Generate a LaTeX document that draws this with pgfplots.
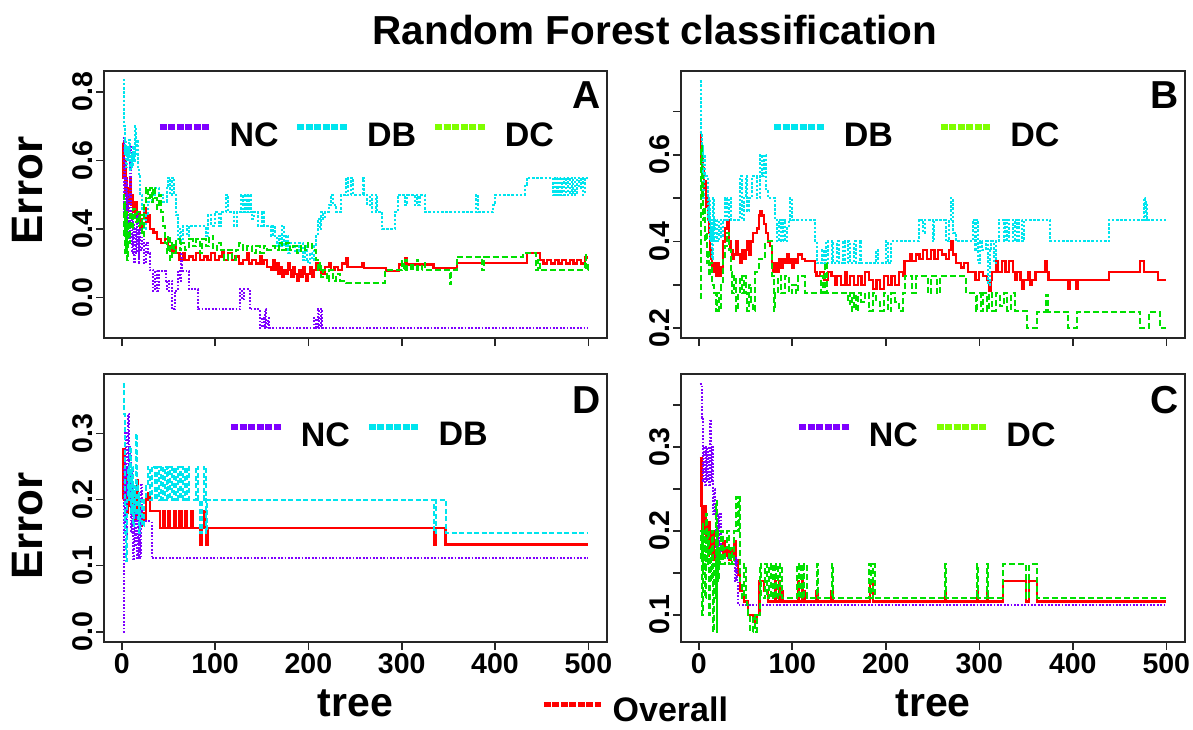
\documentclass[border=0pt]{standalone}
\usepackage{fontspec}
\setmainfont{Liberation Sans}
\usepackage{pgfplots}
\pgfplotsset{compat=1.18}
\definecolor{ncv}{HTML}{7F00FF}
\definecolor{dbc}{HTML}{00E5EE}
\definecolor{dcg}{HTML}{00E000}
\definecolor{dcl}{HTML}{7FFF00}
\definecolor{ovr}{HTML}{FF0000}
\newcommand{\fs}[1]{\fontsize{#1}{#1}\selectfont\bfseries}
\pgfplotsset{
  rfbase/.style={
    scale only axis, width=503pt, height=267pt,
    xmin=-19, xmax=520,
    axis line style={line width=1.6pt, black!85},
    every tick/.style={line width=1.6pt, black!85},
    major tick length=8pt,
    tick align=outside,
    xtick pos=bottom, ytick pos=left,
    xtick={0,100,200,300,400,500},
    tick label style={font=\fs{28.5}},
    yticklabel style={rotate=90, anchor=south},
    legend columns=-1,
    legend style={draw=none, fill=none, font=\fs{34}, anchor=center, inner sep=0pt,
      nodes={inner sep=0pt},
      /tikz/every odd column/.append style={column sep=17pt},
      /tikz/every even column/.append style={column sep=16pt}},
    legend image code/.code={\draw[##1] (0pt,8pt) -- (50pt,8pt);},
    xlabel style={font=\fs{41}},
    ylabel style={font=\fs{44}, anchor=center},
  },
  nc/.style={ncv, line width=2pt, dash pattern=on 1.8pt off 1.6pt, const plot, forget plot},
  db/.style={dbc, line width=2pt, dash pattern=on 2.6pt off 1.6pt, const plot, forget plot},
  dc/.style={dcg, line width=2pt, dash pattern=on 6pt off 3pt, const plot, forget plot},
  ov/.style={ovr, line width=2.2pt, const plot, forget plot},
  lnc/.style={ncv, line width=5.5pt, dash pattern=on 7pt off 1.5pt},
  ldb/.style={dbc, line width=5.5pt, dash pattern=on 7pt off 1.5pt},
  ldc/.style={dcl, line width=5.5pt, dash pattern=on 7pt off 1.5pt},
  lov/.style={ovr, line width=5.5pt, dash pattern=on 7pt off 1.5pt},
}
\begin{document}
\begin{tikzpicture}
\useasboundingbox (0,0) rectangle (1193pt,729pt);
\node[font=\fs{40.5}, anchor=base] at (655pt,684pt) {Random Forest classification};

% ---------------- Panel A ----------------
\begin{axis}[rfbase, at={(104pt,391pt)}, anchor=south west,
  ymin=0.0825, ymax=0.861,
  ytick={0.2,0.4,0.6,0.8}, yticklabels={0.0,0.4,0.6,0.8},
  xticklabels={,,,,,},
  ylabel={Error}, ylabel style={at={(axis description cs:-0.152,0.552)}},
  legend style={at={(axis description cs:0.5,0.76)}}]
\addplot[ov] coordinates {(1,0.65)(2,0.55)(3,0.60)(4,0.50)(5,0.55)(6,0.45)(7,0.52)(8,0.48)(9,0.55)(10,0.47)(11,0.50)(12,0.45)(14,0.48)(16,0.42)(18,0.45)(20,0.40)(22,0.43)(24,0.46)(26,0.42)(28,0.44)(30,0.40)(34,0.39)(38,0.37)(42,0.36)(46,0.37)(50,0.35)(54,0.33)(56,0.35)(58,0.33)(62,0.31)(66,0.33)(68,0.31)(72,0.32)(76,0.31)(80,0.33)(84,0.31)(88,0.32)(92,0.31)(96,0.33)(100,0.31)(104,0.32)(108,0.34)(110,0.31)(114,0.33)(118,0.31)(122,0.32)(126,0.30)(130,0.31)(134,0.33)(136,0.30)(140,0.31)(144,0.30)(148,0.32)(150,0.30)(152,0.31)(156,0.29)(160,0.28)(162,0.31)(164,0.28)(166,0.30)(168,0.27)(170,0.29)(172,0.26)(174,0.28)(176,0.27)(178,0.30)(180,0.28)(182,0.26)(184,0.29)(186,0.27)(188,0.25)(190,0.28)(192,0.26)(194,0.29)(196,0.27)(198,0.25)(200,0.27)(202,0.29)(204,0.26)(206,0.28)(208,0.30)(210,0.28)(214,0.27)(218,0.29)(222,0.30)(224,0.28)(228,0.29)(232,0.28)(236,0.30)(240,0.316)(242,0.29)(258,0.30)(260,0.287)(283,0.278)(297,0.297)(304,0.316)(306,0.297)(334,0.287)(359,0.302)(434,0.331)(448,0.31)(452,0.30)(456,0.31)(460,0.30)(464,0.31)(468,0.30)(472,0.31)(476,0.30)(480,0.31)(484,0.30)(488,0.31)(492,0.30)(496,0.317)(500,0.317)};
\addplot[nc] coordinates {(1,0.667)(2,0.45)(3,0.60)(4,0.38)(5,0.55)(6,0.42)(7,0.50)(8,0.36)(9,0.64)(10,0.45)(11,0.33)(12,0.42)(13,0.30)(14,0.40)(15,0.33)(16,0.45)(17,0.36)(18,0.30)(19,0.40)(20,0.34)(22,0.38)(24,0.30)(26,0.36)(28,0.33)(30,0.28)(34,0.22)(36,0.278)(38,0.22)(40,0.278)(47,0.25)(49,0.22)(51,0.25)(54,0.166)(57,0.22)(60,0.278)(62,0.25)(64,0.33)(65,0.278)(72,0.224)(82,0.166)(127,0.224)(129,0.195)(131,0.224)(137,0.166)(148,0.112)(150,0.14)(152,0.112)(154,0.166)(155,0.112)(157,0.14)(158,0.112)(206,0.14)(208,0.112)(210,0.166)(211,0.112)(213,0.166)(215,0.112)(500,0.112)};
\addplot[db] coordinates {(1,0.836)(2,0.70)(3,0.62)(4,0.66)(5,0.58)(6,0.64)(7,0.60)(8,0.66)(9,0.57)(10,0.62)(11,0.58)(12,0.64)(13,0.60)(14,0.70)(15,0.62)(16,0.66)(17,0.58)(18,0.56)(20,0.50)(22,0.46)(24,0.40)(26,0.44)(28,0.48)(32,0.50)(36,0.52)(40,0.50)(44,0.48)(48,0.52)(50,0.55)(52,0.50)(54,0.55)(56,0.50)(58,0.44)(60,0.37)(62,0.40)(64,0.36)(66,0.41)(70,0.38)(72,0.41)(90,0.38)(92,0.44)(96,0.41)(100,0.45)(104,0.41)(106,0.45)(112,0.50)(114,0.45)(120,0.41)(124,0.45)(128,0.50)(130,0.45)(132,0.50)(134,0.45)(136,0.50)(138,0.45)(140,0.43)(142,0.45)(146,0.41)(150,0.45)(152,0.41)(160,0.38)(162,0.41)(164,0.38)(166,0.35)(168,0.38)(170,0.35)(172,0.41)(174,0.35)(176,0.38)(178,0.33)(180,0.36)(186,0.33)(190,0.36)(194,0.31)(196,0.35)(198,0.31)(200,0.30)(202,0.33)(204,0.31)(206,0.35)(208,0.38)(210,0.43)(212,0.40)(214,0.45)(216,0.43)(218,0.45)(222,0.47)(224,0.50)(226,0.47)(230,0.45)(235,0.50)(240,0.55)(242,0.50)(246,0.55)(248,0.50)(254,0.50)(258,0.55)(260,0.50)(263,0.47)(266,0.50)(268,0.45)(272,0.50)(274,0.45)(279,0.40)(293,0.45)(296,0.50)(304,0.47)(306,0.50)(314,0.47)(316,0.50)(318,0.47)(320,0.50)(325,0.45)(380,0.50)(382,0.45)(398,0.47)(400,0.50)(432,0.53)(434,0.55)(462,0.50)(464,0.55)(466,0.50)(468,0.55)(470,0.50)(472,0.55)(474,0.50)(476,0.55)(478,0.50)(480,0.55)(482,0.50)(484,0.55)(486,0.50)(488,0.55)(490,0.52)(492,0.55)(494,0.50)(496,0.55)(500,0.55)};
\addplot[dc] coordinates {(1,0.50)(2,0.38)(3,0.48)(4,0.33)(5,0.45)(6,0.31)(7,0.42)(8,0.36)(9,0.45)(10,0.40)(12,0.46)(14,0.42)(16,0.45)(18,0.41)(20,0.44)(22,0.38)(24,0.48)(26,0.52)(28,0.49)(30,0.52)(32,0.48)(34,0.52)(36,0.49)(38,0.46)(40,0.50)(42,0.45)(44,0.41)(46,0.36)(48,0.33)(50,0.38)(52,0.31)(54,0.36)(56,0.33)(58,0.37)(62,0.34)(64,0.36)(68,0.34)(72,0.37)(76,0.35)(80,0.37)(84,0.33)(86,0.37)(90,0.35)(94,0.38)(98,0.34)(102,0.36)(106,0.34)(110,0.31)(114,0.34)(118,0.31)(122,0.34)(126,0.36)(130,0.34)(134,0.35)(140,0.33)(144,0.35)(148,0.33)(152,0.35)(156,0.34)(160,0.35)(164,0.34)(168,0.36)(172,0.34)(176,0.36)(180,0.34)(184,0.35)(188,0.33)(192,0.35)(196,0.34)(200,0.36)(204,0.34)(208,0.31)(210,0.28)(212,0.30)(214,0.26)(216,0.28)(220,0.25)(222,0.28)(226,0.25)(230,0.27)(234,0.25)(240,0.244)(282,0.28)(300,0.307)(302,0.28)(304,0.31)(306,0.28)(310,0.30)(312,0.28)(316,0.31)(318,0.28)(322,0.30)(325,0.28)(352,0.24)(353,0.28)(359,0.32)(386,0.28)(388,0.32)(430,0.33)(444,0.28)(446,0.31)(448,0.28)(496,0.31)(497,0.33)(498,0.28)(500,0.30)};
\addlegendimage{lnc}\addlegendentry{NC}
\addlegendimage{ldb}\addlegendentry{DB}
\addlegendimage{ldc}\addlegendentry{DC}
\node[font=\fs{39}] at (axis description cs:0.96,0.91) {A};
\end{axis}

% ---------------- Panel B ----------------
\begin{axis}[rfbase, at={(681pt,391pt)}, anchor=south west, width=504pt,
  ymin=0.177, ymax=0.7935,
  ytick={0.2,0.3,0.4,0.5,0.6,0.7}, yticklabels={0.2,,0.4,,0.6,},
  xticklabels={,,,,,},
  legend style={at={(axis description cs:0.465,0.76)},
    /tikz/every even column/.append style={column sep=45pt}}]
\addplot[ov] coordinates {(1,0.65)(2,0.58)(3,0.60)(4,0.55)(5,0.57)(6,0.52)(7,0.54)(8,0.48)(9,0.50)(10,0.45)(11,0.42)(12,0.38)(13,0.36)(14,0.33)(16,0.35)(18,0.32)(20,0.35)(22,0.32)(24,0.34)(26,0.40)(28,0.43)(30,0.45)(32,0.40)(34,0.38)(36,0.36)(38,0.37)(40,0.40)(42,0.37)(44,0.35)(46,0.38)(48,0.36)(50,0.38)(52,0.40)(54,0.37)(56,0.40)(58,0.42)(62,0.43)(64,0.46)(66,0.47)(68,0.46)(70,0.44)(72,0.42)(74,0.40)(76,0.39)(78,0.35)(80,0.33)(82,0.35)(84,0.33)(86,0.36)(88,0.34)(90,0.36)(92,0.35)(94,0.37)(96,0.35)(98,0.36)(100,0.34)(102,0.36)(104,0.35)(106,0.37)(110,0.36)(114,0.355)(124,0.33)(126,0.32)(130,0.33)(134,0.31)(138,0.33)(142,0.32)(146,0.30)(148,0.32)(152,0.30)(156,0.33)(158,0.30)(162,0.32)(166,0.30)(170,0.32)(174,0.30)(178,0.33)(182,0.31)(186,0.29)(190,0.31)(194,0.29)(198,0.32)(202,0.30)(206,0.32)(210,0.30)(214,0.33)(218,0.32)(220,0.355)(226,0.37)(228,0.355)(232,0.37)(236,0.36)(240,0.38)(244,0.36)(248,0.38)(252,0.36)(256,0.38)(260,0.37)(264,0.36)(268,0.38)(270,0.40)(272,0.37)(275,0.35)(280,0.34)(284,0.35)(288,0.33)(296,0.31)(300,0.33)(304,0.32)(308,0.31)(310,0.285)(312,0.31)(314,0.33)(318,0.355)(320,0.33)(324,0.355)(328,0.33)(332,0.355)(336,0.33)(338,0.31)(340,0.33)(344,0.31)(346,0.29)(348,0.31)(352,0.33)(354,0.30)(356,0.31)(360,0.33)(370,0.355)(372,0.33)(374,0.31)(395,0.29)(397,0.31)(403,0.29)(405,0.31)(439,0.33)(472,0.355)(476,0.33)(491,0.31)(500,0.31)};
\addplot[db] coordinates {(1,0.77)(2,0.65)(3,0.55)(4,0.62)(5,0.50)(6,0.60)(7,0.55)(10,0.45)(11,0.50)(12,0.40)(13,0.45)(14,0.36)(15,0.50)(16,0.40)(17,0.45)(20,0.40)(22,0.45)(24,0.41)(26,0.45)(28,0.50)(30,0.45)(32,0.50)(34,0.45)(44,0.55)(46,0.45)(48,0.50)(50,0.55)(52,0.47)(54,0.50)(57,0.55)(62,0.50)(66,0.60)(68,0.55)(70,0.60)(72,0.52)(74,0.50)(82,0.45)(84,0.40)(86,0.45)(88,0.40)(90,0.45)(92,0.40)(94,0.43)(96,0.45)(98,0.50)(100,0.45)(124,0.40)(126,0.35)(132,0.38)(134,0.35)(136,0.40)(138,0.35)(142,0.40)(144,0.35)(148,0.40)(150,0.35)(154,0.40)(156,0.35)(160,0.40)(162,0.35)(166,0.40)(168,0.35)(172,0.40)(174,0.35)(190,0.38)(192,0.35)(200,0.40)(202,0.35)(206,0.40)(235,0.45)(240,0.42)(242,0.45)(250,0.40)(252,0.45)(264,0.40)(268,0.45)(270,0.50)(272,0.42)(275,0.40)(293,0.45)(295,0.38)(297,0.45)(299,0.35)(301,0.40)(303,0.38)(307,0.40)(309,0.30)(311,0.38)(313,0.40)(316,0.35)(318,0.40)(321,0.45)(326,0.40)(328,0.45)(330,0.40)(332,0.45)(336,0.40)(338,0.45)(340,0.40)(342,0.45)(346,0.40)(348,0.45)(376,0.40)(439,0.45)(476,0.50)(477,0.45)(478,0.49)(479,0.45)(500,0.45)};
\addplot[dc] coordinates {(1,0.27)(2,0.62)(3,0.50)(4,0.55)(5,0.45)(6,0.48)(7,0.40)(8,0.42)(9,0.35)(10,0.38)(11,0.32)(12,0.35)(14,0.30)(16,0.28)(18,0.24)(20,0.28)(22,0.24)(24,0.30)(26,0.36)(28,0.39)(30,0.42)(32,0.38)(34,0.33)(36,0.28)(38,0.32)(40,0.24)(42,0.28)(44,0.32)(46,0.28)(48,0.32)(50,0.28)(52,0.24)(54,0.30)(56,0.26)(58,0.24)(60,0.33)(64,0.36)(71,0.40)(78,0.32)(80,0.24)(82,0.28)(85,0.32)(88,0.28)(92,0.32)(96,0.28)(100,0.30)(104,0.28)(106,0.32)(114,0.28)(131,0.32)(133,0.28)(135,0.35)(137,0.28)(160,0.255)(162,0.28)(164,0.24)(166,0.28)(168,0.24)(170,0.28)(174,0.26)(178,0.28)(182,0.24)(186,0.28)(190,0.26)(194,0.24)(198,0.28)(202,0.24)(206,0.28)(210,0.26)(214,0.24)(218,0.28)(221,0.32)(228,0.28)(232,0.32)(245,0.28)(248,0.32)(255,0.28)(258,0.32)(286,0.28)(296,0.24)(298,0.28)(302,0.24)(304,0.28)(308,0.24)(310,0.28)(314,0.24)(318,0.28)(322,0.25)(326,0.28)(330,0.24)(334,0.28)(338,0.24)(351,0.20)(362,0.238)(371,0.277)(373,0.238)(395,0.20)(405,0.238)(472,0.20)(482,0.238)(493,0.20)(500,0.20)};
\addlegendimage{ldb}\addlegendentry{DB}
\addlegendimage{ldc}\addlegendentry{DC}
\node[font=\fs{39}] at (axis description cs:0.959,0.91) {B};
\end{axis}

% ---------------- Panel D ----------------
\begin{axis}[rfbase, at={(104pt,87.3pt)}, anchor=south west, height=267.7pt,
  ymin=-0.015, ymax=0.39,
  ytick={0,0.1,0.2,0.3}, yticklabels={0.0,0.1,0.2,0.3},
  xticklabels={0,100,200,300,400,500},
  xlabel={tree}, xlabel style={at={(axis description cs:0.5,-0.281)}, anchor=base},
  ylabel={Error}, ylabel style={at={(axis description cs:-0.152,0.432)}},
  legend style={at={(axis description cs:0.505,0.772)}}]
\addplot[ov] coordinates {(1,0.20)(2,0.276)(3,0.238)(4,0.20)(5,0.24)(6,0.18)(7,0.23)(8,0.19)(9,0.22)(10,0.18)(12,0.21)(14,0.17)(16,0.23)(17,0.18)(18,0.20)(20,0.16)(22,0.18)(24,0.17)(26,0.20)(28,0.21)(30,0.183)(41,0.157)(44,0.183)(46,0.157)(50,0.183)(52,0.157)(56,0.183)(58,0.157)(62,0.183)(64,0.157)(68,0.183)(70,0.157)(74,0.183)(76,0.157)(84,0.132)(86,0.157)(88,0.183)(89,0.157)(90,0.132)(92,0.157)(335,0.132)(337,0.157)(347,0.132)(500,0.132)};
\addplot[nc] coordinates {(1,0.0)(2,0.25)(3,0.15)(4,0.30)(5,0.14)(6,0.25)(7,0.33)(8,0.20)(9,0.28)(10,0.15)(11,0.25)(12,0.11)(13,0.20)(14,0.13)(15,0.18)(16,0.11)(17,0.167)(18,0.111)(19,0.167)(20,0.111)(21,0.222)(22,0.167)(32,0.111)(500,0.111)};
\addplot[db, dash pattern=on 5pt off 2.5pt] coordinates {(1,0.375)(2,0.33)(3,0.25)(4,0.15)(5,0.107)(6,0.20)(7,0.25)(8,0.20)(9,0.28)(10,0.18)(11,0.25)(12,0.16)(13,0.22)(14,0.18)(15,0.30)(16,0.22)(17,0.17)(18,0.21)(19,0.15)(20,0.20)(22,0.16)(24,0.20)(26,0.22)(28,0.25)(30,0.20)(32,0.25)(36,0.20)(38,0.25)(40,0.20)(42,0.25)(44,0.20)(46,0.25)(48,0.20)(50,0.25)(52,0.20)(54,0.25)(56,0.20)(58,0.25)(60,0.20)(62,0.25)(64,0.20)(66,0.25)(68,0.20)(70,0.25)(72,0.20)(80,0.25)(82,0.20)(84,0.15)(86,0.20)(88,0.25)(90,0.15)(91,0.20)(335,0.15)(337,0.20)(347,0.15)(500,0.15)};
\addlegendimage{lnc}\addlegendentry{NC}
\addlegendimage{ldb}\addlegendentry{DB}
\node[font=\fs{39}] at (axis description cs:0.96,0.903) {D};
\end{axis}

% ---------------- Panel C ----------------
\begin{axis}[rfbase, at={(681pt,87.3pt)}, anchor=south west, width=504pt, height=267.7pt,
  ymin=0.068, ymax=0.387,
  ytick={0.1,0.15,0.2,0.25,0.3,0.35}, yticklabels={0.1,,0.2,,0.3,},
  xticklabels={0,100,200,300,400,500},
  xlabel={tree}, xlabel style={at={(axis description cs:0.5,-0.281)}, anchor=base},
  legend style={at={(axis description cs:0.486,0.772)}}]
\addplot[ov] coordinates {(1,0.287)(3,0.23)(4,0.196)(5,0.23)(6,0.20)(7,0.23)(8,0.19)(9,0.21)(10,0.17)(11,0.21)(12,0.18)(13,0.20)(14,0.165)(15,0.20)(16,0.165)(17,0.17)(20,0.16)(22,0.17)(26,0.188)(28,0.17)(30,0.18)(32,0.165)(34,0.18)(36,0.17)(38,0.188)(40,0.165)(42,0.148)(44,0.128)(48,0.116)(53,0.10)(58,0.092)(62,0.10)(65,0.14)(70,0.128)(74,0.116)(82,0.14)(83,0.116)(86,0.14)(87,0.116)(89,0.128)(90,0.116)(106,0.14)(107,0.116)(110,0.14)(111,0.116)(113,0.128)(114,0.116)(126,0.128)(127,0.116)(142,0.128)(143,0.116)(183,0.14)(186,0.116)(263,0.128)(264,0.116)(298,0.128)(299,0.116)(308,0.128)(309,0.116)(325,0.14)(350,0.116)(353,0.14)(362,0.116)(500,0.116)};
\addplot[nc] coordinates {(1,0.375)(3,0.335)(5,0.26)(6,0.30)(7,0.255)(8,0.30)(9,0.26)(10,0.30)(11,0.255)(12,0.333)(13,0.26)(14,0.30)(15,0.22)(16,0.25)(17,0.222)(18,0.17)(19,0.22)(20,0.17)(21,0.22)(22,0.17)(23,0.22)(24,0.168)(39,0.14)(40,0.168)(41,0.14)(42,0.112)(500,0.112)};
\addplot[dc] coordinates {(1,0.168)(2,0.20)(3,0.10)(4,0.21)(5,0.15)(6,0.20)(7,0.12)(8,0.22)(9,0.16)(10,0.20)(11,0.10)(12,0.18)(13,0.14)(14,0.20)(15,0.08)(16,0.16)(17,0.12)(18,0.236)(19,0.08)(20,0.20)(21,0.14)(22,0.18)(23,0.16)(24,0.20)(26,0.16)(28,0.18)(30,0.20)(32,0.16)(34,0.18)(36,0.16)(38,0.20)(40,0.24)(42,0.20)(43,0.24)(44,0.14)(46,0.12)(48,0.16)(50,0.12)(52,0.112)(53,0.10)(55,0.08)(58,0.10)(60,0.08)(62,0.10)(65,0.16)(67,0.12)(71,0.16)(73,0.12)(75,0.16)(77,0.12)(79,0.16)(81,0.12)(83,0.16)(85,0.12)(87,0.16)(89,0.12)(105,0.16)(107,0.12)(109,0.16)(111,0.12)(113,0.16)(116,0.12)(126,0.16)(127,0.12)(142,0.16)(144,0.12)(182,0.16)(184,0.12)(186,0.16)(188,0.12)(263,0.16)(264,0.12)(298,0.16)(299,0.12)(308,0.16)(309,0.12)(325,0.16)(350,0.12)(353,0.16)(362,0.12)(500,0.12)};
\addlegendimage{lnc}\addlegendentry{NC}
\addlegendimage{ldc}\addlegendentry{DC}
\node[font=\fs{39}] at (axis description cs:0.96,0.903) {C};
\end{axis}

% ---------------- Overall legend ----------------
\begin{axis}[hide axis, scale only axis, width=1pt, height=1pt,
  xmin=0, xmax=1, ymin=0, ymax=1,
  at={(541pt,19.5pt)}, anchor=center,
  legend style={draw=none, fill=none, font=\fs{34}, at={(0.5,0.5)}, anchor=west,
    inner sep=0pt, nodes={inner sep=0pt},
    /tikz/every odd column/.append style={column sep=9pt}},
  legend image code/.code={\draw[#1] (0pt,5pt) -- (57pt,5pt);}]
\addlegendimage{lov}\addlegendentry{Overall}
\end{axis}
\end{tikzpicture}
\end{document}
